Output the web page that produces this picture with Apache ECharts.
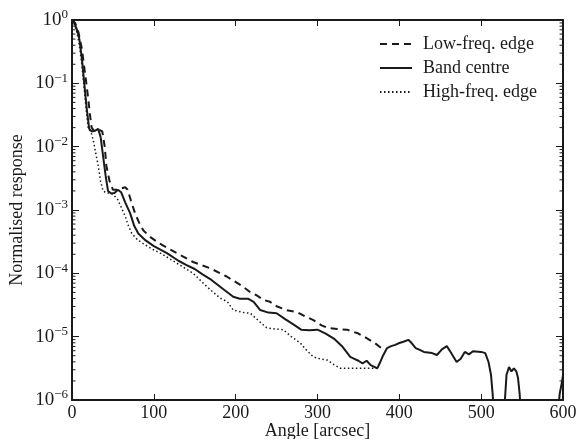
<!DOCTYPE html>
<html><head><meta charset="utf-8">
<script src="https://cdn.jsdelivr.net/npm/echarts@6/dist/echarts.min.js"></script>
<style>html,body{margin:0;padding:0;background:#fff}#c{width:578px;height:439px}</style>
</head><body><div id="c"></div>
<script>
const xTicks = [0,100,200,300,400,500,600];
const yMinorTicks = [];
const centreAngle = [0,3,6,9,12,15,18,21,24,28,32,35,38,41,44,48,52,56,60,65,71,76,81,90,100,116,130,140,150,160,170,185,197,205,215,222,230,240,250,260,270,280,290,300,310,320,330,340,345,350,355,360,365,370,373,376,380,385,390,395,400,405,411,415,420,425,430,440,446,452,458,463,470,475,480,485,490,500,505,509,512,514,516,525,528,531,534,537,540,543,545,547,549,555,590,593,596,599,600];
const centreResp = [1,0.891,0.708,0.501,0.251,0.1,0.0398,0.0191,0.0174,0.0178,0.0191,0.0141,0.00708,0.00355,0.0020,0.00182,0.00186,0.00209,0.00191,0.00132,8.91e-4,5.62e-4,4.27e-4,3.31e-4,2.69e-4,2.09e-4,1.58e-4,1.35e-4,1.17e-4,9.55e-5,7.94e-5,5.62e-5,4.27e-5,3.98e-5,3.98e-5,3.55e-5,2.63e-5,2.40e-5,2.34e-5,1.91e-5,1.58e-5,1.29e-5,1.26e-5,1.29e-5,1.12e-5,9.33e-6,7.08e-6,4.79e-6,4.47e-6,4.17e-6,3.80e-6,4.17e-6,3.55e-6,3.31e-6,3.16e-6,3.80e-6,5.01e-6,6.61e-6,7.08e-6,7.41e-6,7.94e-6,8.32e-6,8.91e-6,7.94e-6,6.61e-6,6.17e-6,5.75e-6,5.50e-6,5.13e-6,6.31e-6,7.08e-6,5.62e-6,3.98e-6,4.47e-6,5.75e-6,5.25e-6,5.89e-6,5.75e-6,5.50e-6,3.98e-6,2.51e-6,1.26e-6,5.0e-7,1e-7,6.3e-7,2.51e-6,3.31e-6,2.82e-6,3.16e-6,2.82e-6,2.24e-6,1.26e-6,5.0e-7,1e-7,1e-7,5e-7,1.26e-6,2.0e-6,2.51e-6];
const lowAngle = [0,4,8,12,15,18,20,22,24,27,30,34,37,40,42,46,50,55,60,65,68,72,77,82,87,95,107,128,148,169,189,209,218,226,234,242,250,262,275,285,295,305,312,324,336,350,361,370,378];
const lowResp = [1,0.891,0.631,0.355,0.178,0.0891,0.0550,0.0316,0.0200,0.0178,0.0174,0.0182,0.0174,0.01,0.00501,0.00282,0.00209,0.00209,0.00219,0.00229,0.00209,0.00141,8.91e-4,6.31e-4,4.79e-4,3.80e-4,2.95e-4,2.09e-4,1.51e-4,1.20e-4,8.91e-5,6.17e-5,5.01e-5,4.47e-5,3.80e-5,3.55e-5,3.02e-5,2.63e-5,2.45e-5,2.09e-5,1.82e-5,1.51e-5,1.38e-5,1.32e-5,1.29e-5,1.12e-5,9.33e-6,7.94e-6,6.61e-6];
const highAngle = [0,3,6,9,12,15,18,20,23,26,29,32,35,38,42,46,50,56,60,65,69,73,80,87,97,108,128,148,160,169,181,190,197,210,218,228,238,248,258,268,279,287,295,303,312,320,328,340,350,361,370];
const highResp = [1,0.851,0.631,0.398,0.2,0.0794,0.0316,0.0191,0.0174,0.0126,0.00794,0.00501,0.00282,0.0020,0.00186,0.00186,0.00178,0.00145,0.00112,7.94e-4,5.62e-4,4.27e-4,3.39e-4,2.95e-4,2.45e-4,2.09e-4,1.45e-4,1.0e-4,7.08e-5,5.50e-5,4.07e-5,3.55e-5,2.63e-5,2.40e-5,2.34e-5,1.78e-5,1.38e-5,1.32e-5,1.29e-5,1.0e-5,7.94e-6,6.03e-6,4.79e-6,4.47e-6,4.27e-6,3.63e-6,3.16e-6,3.16e-6,3.16e-6,3.16e-6,3.16e-6];
const seriesNames = ['Low-freq. edge','Band centre','High-freq. edge'];
const xName = 'Angle [arcsec]';
const yName = 'Normalised response';
for (let e = -6; e < 0; e++) for (let m = 2; m <= 9; m++) yMinorTicks.push(+(m + 'e' + e));

const FONT = '"Liberation Serif","DejaVu Serif",serif';
const INK = '#1a1a1a';
const FS = 18;
const zip = (a, b) => a.map((v, i) => [v, b[i]]);
const sup = {'-':'\u2212','0':'0','1':'1','2':'2','3':'3','4':'4','5':'5','6':'6'};

const chart = echarts.init(document.getElementById('c'), null, {renderer: 'canvas'});
const baseX = {
  type: 'value', min: 0, max: 600, interval: 100,
  axisLine: {show: true, onZero: false, lineStyle: {color: INK, width: 2}},
  axisTick: {show: true, inside: true, length: 6, lineStyle: {color: INK, width: 1}},
  splitLine: {show: false}
};
const baseY = {
  type: 'log', logBase: 10, min: 1e-6, max: 1,
  axisLine: {show: true, onZero: false, lineStyle: {color: INK, width: 2}},
  axisTick: {show: true, inside: true, length: 7, lineStyle: {color: INK, width: 1}},
  splitLine: {show: false}
};
chart.setOption({
  animation: false,
  backgroundColor: '#fff',
  textStyle: {fontFamily: FONT},
  grid: {left: 72, right: 15, top: 20, bottom: 39, containLabel: false, outerBoundsMode: 'none'},
  legend: {
    orient: 'vertical', left: 374, top: 30, itemWidth: 32, itemHeight: 18, itemGap: 6,
    itemStyle: {opacity: 0},
    textStyle: {fontFamily: FONT, fontSize: FS, color: INK, padding: [0,0,0,6]},
    data: seriesNames
  },
  xAxis: [
    Object.assign({}, baseX, {position: 'bottom', name: xName, nameLocation: 'middle', nameGap: 22, nameMoveOverlap: false,
      nameTextStyle: {fontFamily: FONT, fontSize: FS, color: INK},
      axisLabel: {show: true, fontFamily: FONT, fontSize: FS, color: INK, margin: 4}}),
    Object.assign({}, baseX, {position: 'top', axisLabel: {show: false}})
  ],
  yAxis: [
    Object.assign({}, baseY, {position: 'left', name: yName, nameLocation: 'middle', nameGap: 46, nameMoveOverlap: false,
      nameTextStyle: {fontFamily: FONT, fontSize: FS, color: INK},
      axisLabel: {show: true, margin: 4, color: INK,
        formatter: v => { const e = Math.round(Math.log10(v)); return '{b|10}{s|' + String(e).split('').map(c => sup[c]).join('') + '}'; },
        rich: {b: {fontFamily: FONT, fontSize: 19, color: INK}, s: {fontFamily: FONT, fontSize: 13, color: INK, padding: [0,0,10,0]}}}}),
    Object.assign({}, baseY, {position: 'right', axisLabel: {show: false}})
  ],
  series: [
    {name: seriesNames[0], type: 'line', data: zip(lowAngle, lowResp), showSymbol: false, symbol: 'none', clip: true,
     lineStyle: {color: INK, width: 2, type: [7, 5]}, itemStyle: {color: INK}},
    {name: seriesNames[1], type: 'line', data: zip(centreAngle, centreResp), showSymbol: false, symbol: 'none', clip: true,
     lineStyle: {color: INK, width: 2}, itemStyle: {color: INK}},
    {name: seriesNames[2], type: 'line', data: zip(highAngle, highResp), showSymbol: false, symbol: 'none', clip: true,
     lineStyle: {color: INK, width: 1.5, type: [1.5, 2.5]}, itemStyle: {color: INK}},
    {type: 'custom', silent: true, clip: false, data: yMinorTicks.map(v => [0, v]),
     renderItem: (params, api) => {
       const p = api.coord([0, api.value(1)]);
       const q = api.coord([600, api.value(1)]);
       return {type: 'group', children: [
         {type: 'line', shape: {x1: p[0], y1: p[1], x2: p[0] + 3.5, y2: p[1]}, style: {stroke: INK, lineWidth: 1}},
         {type: 'line', shape: {x1: q[0], y1: q[1], x2: q[0] - 3.5, y2: q[1]}, style: {stroke: INK, lineWidth: 1}}
       ]};
     }}
  ]
});
</script></body></html>
